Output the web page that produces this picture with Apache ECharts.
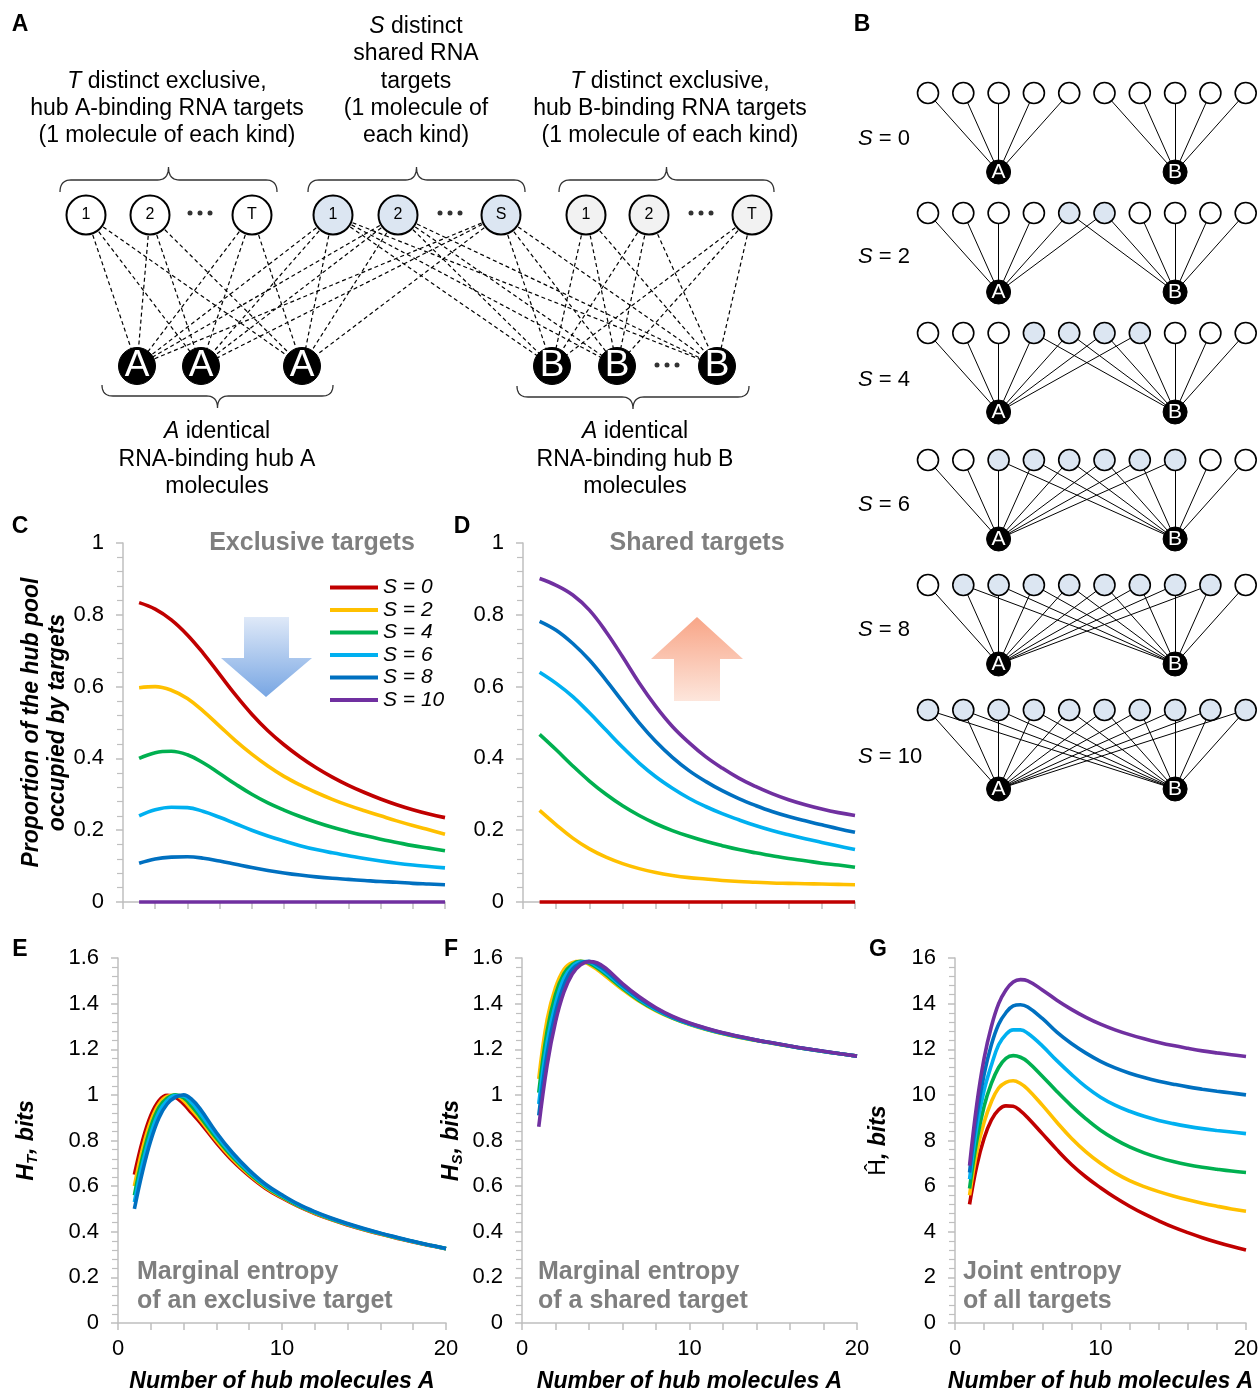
<!DOCTYPE html>
<html>
<head>
<meta charset="utf-8">
<script src="https://cdn.jsdelivr.net/npm/echarts@6/dist/echarts.min.js"></script>
<style>
html,body{margin:0;padding:0;background:#ffffff;}
#chart{width:1260px;height:1393px;}
</style>
</head>
<body>
<div id="chart"></div>
<script>
// ===================== DATA =====================
const sLabels = ['S = 0', 'S = 2', 'S = 4', 'S = 6', 'S = 8', 'S = 10'];
const bPanelS = [0, 2, 4, 6, 8, 10];
const targetsPerRow = 10;
const exclusiveNodeLabels = ['1', '2', 'T'];
const sharedNodeLabels = ['1', '2', 'S'];
const hubCounts = [1,2,3,4,5,6,7,8,9,10,11,12,13,14,15,16,17,18,19,20];
const xTickLabels = [0, 10, 20];

// Panel C: proportion of hub pool occupied by exclusive targets
const exclusiveS0 = [0.834,0.816,0.786,0.744,0.692,0.634,0.576,0.523,0.477,0.438,0.404,0.374,0.348,0.325,0.305,0.287,0.271,0.257,0.245,0.235];
const exclusiveS2 = [0.597,0.600,0.590,0.567,0.531,0.490,0.449,0.412,0.379,0.350,0.326,0.305,0.286,0.269,0.254,0.240,0.226,0.213,0.201,0.189];
const exclusiveS4 = [0.400,0.416,0.420,0.410,0.387,0.358,0.328,0.300,0.276,0.256,0.238,0.222,0.208,0.196,0.185,0.175,0.166,0.157,0.150,0.143];
const exclusiveS6 = [0.240,0.257,0.264,0.263,0.252,0.236,0.218,0.200,0.184,0.170,0.157,0.146,0.137,0.129,0.121,0.114,0.108,0.103,0.099,0.095];
const exclusiveS8 = [0.108,0.120,0.125,0.126,0.122,0.114,0.105,0.096,0.088,0.081,0.075,0.070,0.066,0.063,0.060,0.057,0.055,0.052,0.050,0.048];
const exclusiveS10 = [0,0,0,0,0,0,0,0,0,0,0,0,0,0,0,0,0,0,0,0];

// Panel D: proportion of hub pool occupied by shared targets
const sharedS0 = [0,0,0,0,0,0,0,0,0,0,0,0,0,0,0,0,0,0,0,0];
const sharedS2 = [0.255,0.215,0.178,0.148,0.125,0.107,0.093,0.082,0.074,0.068,0.064,0.060,0.057,0.055,0.053,0.052,0.051,0.050,0.049,0.048];
const sharedS4 = [0.467,0.424,0.379,0.337,0.300,0.268,0.241,0.218,0.199,0.183,0.169,0.157,0.146,0.137,0.129,0.121,0.115,0.108,0.103,0.097];
const sharedS6 = [0.640,0.609,0.572,0.527,0.479,0.431,0.387,0.349,0.317,0.289,0.266,0.246,0.229,0.213,0.199,0.187,0.176,0.166,0.156,0.146];
const sharedS8 = [0.782,0.757,0.720,0.674,0.618,0.558,0.499,0.447,0.403,0.366,0.336,0.310,0.288,0.269,0.252,0.238,0.226,0.215,0.204,0.194];
const sharedS10 = [0.901,0.882,0.855,0.813,0.753,0.683,0.610,0.545,0.489,0.444,0.405,0.373,0.345,0.322,0.302,0.285,0.271,0.259,0.249,0.241];

// Panels E, F, G: entropies
const entropyHubCounts = [1,1.5,2,2.5,3,3.5,4,4.5,5,6,7,8,9,10,11,12,13,14,15,16,17,18,19,20];
const exclEntropyS0 = [0.65,0.80,0.91,0.975,0.998,0.99,0.96,0.92,0.88,0.79,0.71,0.645,0.59,0.548,0.511,0.48,0.453,0.43,0.409,0.39,0.372,0.355,0.34,0.325];
const exclEntropyS2 = [0.60,0.765,0.885,0.96,0.993,0.998,0.975,0.935,0.893,0.80,0.718,0.65,0.594,0.551,0.513,0.482,0.455,0.432,0.41,0.391,0.373,0.356,0.341,0.326];
const exclEntropyS4 = [0.56,0.73,0.86,0.945,0.985,1.0,0.987,0.95,0.905,0.81,0.726,0.656,0.598,0.554,0.515,0.484,0.456,0.433,0.411,0.392,0.374,0.357,0.341,0.326];
const exclEntropyS6 = [0.53,0.70,0.83,0.925,0.975,0.997,0.995,0.965,0.92,0.822,0.735,0.662,0.603,0.558,0.518,0.486,0.458,0.434,0.412,0.393,0.375,0.357,0.341,0.326];
const exclEntropyS8 = [0.50,0.665,0.80,0.90,0.96,0.99,1.0,0.98,0.94,0.835,0.745,0.67,0.608,0.562,0.521,0.488,0.46,0.436,0.414,0.394,0.376,0.358,0.342,0.327];

const sharedEntropyS2 = [1.07,1.33,1.47,1.55,1.58,1.585,1.572,1.548,1.52,1.462,1.41,1.368,1.335,1.308,1.286,1.268,1.252,1.238,1.225,1.213,1.201,1.19,1.18,1.17];
const sharedEntropyS4 = [1.01,1.28,1.44,1.53,1.572,1.585,1.578,1.556,1.528,1.468,1.414,1.371,1.337,1.31,1.288,1.269,1.253,1.239,1.226,1.213,1.201,1.19,1.18,1.17];
const sharedEntropyS6 = [0.96,1.23,1.40,1.51,1.562,1.582,1.582,1.563,1.536,1.474,1.419,1.374,1.339,1.311,1.289,1.27,1.254,1.239,1.226,1.213,1.201,1.19,1.18,1.17];
const sharedEntropyS8 = [0.91,1.18,1.36,1.48,1.55,1.578,1.585,1.57,1.545,1.48,1.424,1.378,1.341,1.313,1.291,1.271,1.255,1.24,1.227,1.214,1.202,1.191,1.18,1.17];
const sharedEntropyS10 = [0.86,1.13,1.32,1.45,1.53,1.57,1.584,1.578,1.555,1.488,1.43,1.382,1.344,1.315,1.292,1.272,1.256,1.24,1.227,1.214,1.202,1.191,1.18,1.17];

const jointEntropyS0 = [5.2,6.9,8.1,8.9,9.35,9.52,9.5,9.3,9.0,8.3,7.6,6.95,6.4,5.93,5.5,5.12,4.78,4.48,4.2,3.96,3.74,3.54,3.36,3.2];
const jointEntropyS2 = [5.6,7.5,8.8,9.7,10.3,10.55,10.62,10.5,10.25,9.55,8.8,8.1,7.5,7.0,6.58,6.24,5.98,5.76,5.57,5.4,5.25,5.12,5.0,4.9];
const jointEntropyS4 = [5.9,8.0,9.5,10.5,11.2,11.6,11.72,11.65,11.45,10.82,10.15,9.52,8.95,8.45,8.05,7.72,7.46,7.25,7.08,6.94,6.83,6.74,6.66,6.6];
const jointEntropyS6 = [6.3,8.6,10.2,11.3,12.2,12.65,12.85,12.85,12.7,12.15,11.5,10.9,10.35,9.9,9.55,9.28,9.06,8.88,8.74,8.62,8.52,8.44,8.37,8.3];
const jointEntropyS8 = [6.6,9.1,10.9,12.2,13.1,13.6,13.9,13.95,13.85,13.35,12.75,12.25,11.83,11.47,11.18,10.95,10.76,10.6,10.47,10.35,10.25,10.16,10.08,10.0];
const jointEntropyS10 = [6.9,9.6,11.6,13.0,14.0,14.6,14.95,15.05,15.0,14.6,14.15,13.75,13.4,13.1,12.85,12.64,12.46,12.3,12.16,12.04,11.93,11.84,11.76,11.68];

// ===================== LAYOUT / STYLE =====================
const FONT = '"Liberation Sans", Arial, sans-serif';
const COLORS = ['#c00000', '#ffc000', '#00b050', '#00b0f0', '#0070c0', '#7030a0'];
const AXIS_GRAY = '#bfbfbf';
const NOTE_GRAY = '#7f7f7f';
const SHARED_FILL = '#dce6f2';
const RIGHT_FILL = '#f2f2f2';

// Panel A layout (diagram grid maps 1:1 to page pixels)
const A_TARGET_Y = 215, A_HUB_Y = 366;
const A_LEFT_X = [86, 150, 252], A_SHARED_X = [333, 398, 501], A_RIGHT_X = [586, 649, 752];
const A_HUBA_X = [137, 201, 302], A_HUBB_X = [552, 617, 717];
const A_DOTS = [[200, 213], [450, 213], [701, 213], [667, 365]];
const A_BRACES = [[60, 277, 192, 180, 167], [308, 525, 192, 180, 167], [559, 774, 192, 180, 167],
                  [102, 333, 385, 396, 408], [517, 749, 386, 397, 409]];
// Panel B layout
const B_X0 = 928, B_DX = 35.3;
const B_TOP_Y = [93, 213, 333, 460, 585, 710];
const B_HUB_DY = 79;
const B_LABEL_Y = [139, 257, 380, 505, 630, 757];

// ===================== BUILD =====================
function panelAGraph() {
  const nodes = [], links = [];
  const tNode = (name, lab, x, fill) => ({
    name, value: [x, A_TARGET_Y], symbolSize: 39,
    itemStyle: { color: fill, borderColor: '#000', borderWidth: 2 },
    label: { show: true, formatter: lab, fontSize: 16, color: '#000', fontFamily: FONT }
  });
  const hNode = (name, lab, x) => ({
    name, value: [x, A_HUB_Y], symbolSize: 37,
    itemStyle: { color: '#000', borderColor: '#000', borderWidth: 1 },
    label: { show: true, formatter: lab, fontSize: 37, color: '#fff', fontFamily: FONT }
  });
  exclusiveNodeLabels.forEach((l, i) => nodes.push(tNode('L' + i, l, A_LEFT_X[i], '#ffffff')));
  sharedNodeLabels.forEach((l, i) => nodes.push(tNode('S' + i, l, A_SHARED_X[i], SHARED_FILL)));
  exclusiveNodeLabels.forEach((l, i) => nodes.push(tNode('R' + i, l, A_RIGHT_X[i], RIGHT_FILL)));
  A_HUBA_X.forEach((x, i) => nodes.push(hNode('HA' + i, 'A', x)));
  A_HUBB_X.forEach((x, i) => nodes.push(hNode('HB' + i, 'B', x)));
  exclusiveNodeLabels.forEach((l, i) => A_HUBA_X.forEach((x, j) => links.push({ source: 'L' + i, target: 'HA' + j })));
  sharedNodeLabels.forEach((l, i) => {
    A_HUBA_X.forEach((x, j) => links.push({ source: 'S' + i, target: 'HA' + j }));
    A_HUBB_X.forEach((x, j) => links.push({ source: 'S' + i, target: 'HB' + j }));
  });
  exclusiveNodeLabels.forEach((l, i) => A_HUBB_X.forEach((x, j) => links.push({ source: 'R' + i, target: 'HB' + j })));
  return {
    type: 'graph', layout: 'none', coordinateSystem: 'cartesian2d', xAxisIndex: 0, yAxisIndex: 0,
    silent: true, roam: false, emphasis: { disabled: true }, z: 3,
    data: nodes, links,
    lineStyle: { color: '#000', width: 1.2, type: [4, 3], opacity: 1, curveness: 0 }
  };
}

function panelBGraph(r) {
  const S = bPanelS[r];
  const top = B_TOP_Y[r], hubY = top + B_HUB_DY;
  const lo = (targetsPerRow - S) / 2, hi = (targetsPerRow + S) / 2;
  const nodes = [], links = [];
  for (let i = 0; i < targetsPerRow; i++) {
    const shared = i >= lo && i < hi;
    nodes.push({ name: 't' + i, value: [B_X0 + i * B_DX, top], symbolSize: 21,
      itemStyle: { color: shared ? SHARED_FILL : '#ffffff', borderColor: '#000', borderWidth: 1.6 },
      label: { show: false } });
  }
  const hubStyle = { color: '#000', borderColor: '#000', borderWidth: 1 };
  nodes.push({ name: 'A', value: [B_X0 + 2 * B_DX, hubY], symbolSize: 24, itemStyle: hubStyle,
    label: { show: true, formatter: 'A', color: '#fff', fontSize: 21, fontFamily: FONT } });
  nodes.push({ name: 'B', value: [B_X0 + 7 * B_DX, hubY], symbolSize: 24, itemStyle: hubStyle,
    label: { show: true, formatter: 'B', color: '#fff', fontSize: 21, fontFamily: FONT } });
  for (let i = 0; i < targetsPerRow; i++) {
    if (i < hi) links.push({ source: 't' + i, target: 'A' });
    if (i >= lo) links.push({ source: 't' + i, target: 'B' });
  }
  return {
    type: 'graph', layout: 'none', coordinateSystem: 'cartesian2d', xAxisIndex: 0, yAxisIndex: 0,
    silent: true, roam: false, emphasis: { disabled: true }, z: 3,
    data: nodes, links,
    lineStyle: { color: '#000', width: 1, type: 'solid', opacity: 1, curveness: 0 }
  };
}

function braceRender(params, api) {
  const x1 = api.value(0), x2 = api.value(1), yE = api.value(2), yM = api.value(3), yT = api.value(4);
  const P = (x, y) => api.coord([x, y]);
  const cx = (x1 + x2) / 2, r = 11;
  const pts = [];
  const quad = (a, b, c) => {
    for (let k = 0; k <= 10; k++) {
      const t = k / 10, u = 1 - t;
      pts.push([u * u * a[0] + 2 * u * t * b[0] + t * t * c[0], u * u * a[1] + 2 * u * t * b[1] + t * t * c[1]]);
    }
  };
  quad(P(x1, yE), P(x1, yM), P(x1 + r, yM));
  quad(P(cx - r, yM), P(cx, yM), P(cx, yT));
  quad(P(cx, yT), P(cx, yM), P(cx + r, yM));
  quad(P(x2 - r, yM), P(x2, yM), P(x2, yE));
  return { type: 'polyline', shape: { points: pts }, style: { stroke: '#333', lineWidth: 1.3, fill: null } };
}

function lineSeries(gridIdx, sIdx, xs, ys) {
  return {
    type: 'line', name: sLabels[sIdx], xAxisIndex: gridIdx, yAxisIndex: gridIdx,
    data: xs.map((x, i) => [x, ys[i]]), showSymbol: false, symbol: 'none', smooth: 0.4,
    color: COLORS[sIdx], lineStyle: { width: 3.6, color: COLORS[sIdx] }, itemStyle: { color: COLORS[sIdx] },
    silent: true, z: 5, clip: false, emphasis: { disabled: true }
  };
}

const nameStyle = { fontSize: 23, fontWeight: 'bold', fontStyle: 'italic', color: '#000', fontFamily: FONT };
function xAx(gridIndex, showLabels, name) {
  return {
    type: 'value', gridIndex, min: 0, max: 20, interval: 2,
    axisLine: { show: true, onZero: false, lineStyle: { color: AXIS_GRAY, width: 1.5 } },
    axisTick: { show: true, length: 7, lineStyle: { color: AXIS_GRAY, width: 1.5 } },
    splitLine: { show: false },
    axisLabel: { show: showLabels, margin: 15, fontSize: 22, color: '#000', fontFamily: FONT,
      formatter: v => (xTickLabels.indexOf(v) >= 0 ? String(v) : '') },
    name: name || '', nameLocation: 'middle', nameGap: 47, nameTextStyle: nameStyle, nameMoveOverlap: false
  };
}
function yAx(gridIndex, max, interval, name, nameGap, rich) {
  return {
    type: 'value', gridIndex, min: 0, max, interval,
    axisLine: { show: true, lineStyle: { color: AXIS_GRAY, width: 1.5 } },
    axisTick: { show: true, length: 7, lineStyle: { color: AXIS_GRAY, width: 1.5 } },
    minorTick: { show: true, splitNumber: 5, length: 6, lineStyle: { color: AXIS_GRAY, width: 1.2 } },
    splitLine: { show: false }, minorSplitLine: { show: false },
    axisLabel: { margin: 19, fontSize: 22, color: '#000', fontFamily: FONT },
    name: name || '', nameLocation: 'middle', nameRotate: 90, nameGap: nameGap || 0, nameMoveOverlap: false,
    nameTextStyle: Object.assign({ lineHeight: 26 }, nameStyle, rich ? { rich } : {})
  };
}
const bi = { fontSize: 23, fontWeight: 'bold', fontStyle: 'italic', color: '#000', fontFamily: FONT };
const sub = { fontSize: 15, fontWeight: 'bold', fontStyle: 'italic', color: '#000', fontFamily: FONT, verticalAlign: 'bottom', padding: [0, 1, 0, 0] };
const reg = { fontSize: 23, fontWeight: 'normal', fontStyle: 'normal', color: '#000', fontFamily: FONT };

// graphic helpers
function txt(x, y, text, o) {
  return { type: 'text', x, y, silent: true, z: 100,
    style: Object.assign({ text, fontSize: 23, fontFamily: FONT, fill: '#000', textAlign: 'center', textVerticalAlign: 'middle' }, o || {}) };
}
const it23 = { fontStyle: 'italic', fontSize: 23, fontFamily: FONT, fill: '#000' };
const it22 = { fontStyle: 'italic', fontSize: 22, fontFamily: FONT, fill: '#000' };

const graphics = [];
// panel letters
[['A', 20, 25], ['B', 862, 25], ['C', 20, 527], ['D', 462, 527], ['E', 20, 950], ['F', 451, 950], ['G', 878, 950]]
  .forEach(p => graphics.push(txt(p[1], p[2], p[0], { fontWeight: 'bold', fontSize: 23 })));
// Panel A texts
graphics.push(txt(167, 82, '{i|T} distinct exclusive,', { rich: { i: it23 } }));
graphics.push(txt(167, 109, 'hub A-binding RNA targets'));
graphics.push(txt(167, 136, '(1 molecule of each kind)'));
graphics.push(txt(416, 27, '{i|S} distinct', { rich: { i: it23 } }));
graphics.push(txt(416, 54, 'shared RNA'));
graphics.push(txt(416, 82, 'targets'));
graphics.push(txt(416, 109, '(1 molecule of'));
graphics.push(txt(416, 136, 'each kind)'));
graphics.push(txt(670, 82, '{i|T} distinct exclusive,', { rich: { i: it23 } }));
graphics.push(txt(670, 109, 'hub B-binding RNA targets'));
graphics.push(txt(670, 136, '(1 molecule of each kind)'));
graphics.push(txt(217, 432, '{i|A} identical', { rich: { i: it23 } }));
graphics.push(txt(217, 460, 'RNA-binding hub A'));
graphics.push(txt(217, 487, 'molecules'));
graphics.push(txt(635, 432, '{i|A} identical', { rich: { i: it23 } }));
graphics.push(txt(635, 460, 'RNA-binding hub B'));
graphics.push(txt(635, 487, 'molecules'));
// Panel B row labels
bPanelS.forEach((s, r) => graphics.push(txt(858, B_LABEL_Y[r], '{i|S} = ' + s, { fontSize: 22, textAlign: 'left', rich: { i: it22 } })));
// C / D titles
graphics.push(txt(312, 543, 'Exclusive targets', { fontSize: 25, fontWeight: 'bold', fill: NOTE_GRAY }));
graphics.push(txt(697, 543, 'Shared targets', { fontSize: 25, fontWeight: 'bold', fill: NOTE_GRAY }));
// E F G notes
[[137, 'Marginal entropy', 'of an exclusive target'], [538, 'Marginal entropy', 'of a shared target'], [963, 'Joint entropy', 'of all targets']]
  .forEach(n => {
    graphics.push(txt(n[0], 1272, n[1], { fontSize: 25, fontWeight: 'bold', fill: NOTE_GRAY, textAlign: 'left' }));
    graphics.push(txt(n[0], 1301, n[2], { fontSize: 25, fontWeight: 'bold', fill: NOTE_GRAY, textAlign: 'left' }));
  });
// arrows
graphics.push({ type: 'polygon', silent: true, z: 1,
  shape: { points: [[244, 617], [289, 617], [289, 658], [312, 658], [266, 697], [221, 658], [244, 658]] },
  style: { fill: new echarts.graphic.LinearGradient(0, 0, 0, 1, [{ offset: 0, color: '#dfe9f8' }, { offset: 1, color: '#78a6e3' }]) } });
graphics.push({ type: 'polygon', silent: true, z: 1,
  shape: { points: [[697, 617], [743, 659], [720, 659], [720, 701], [674, 701], [674, 659], [651, 659]] },
  style: { fill: new echarts.graphic.LinearGradient(0, 0, 0, 1, [{ offset: 0, color: '#f8a587' }, { offset: 1, color: '#fde6dc' }]) } });

const series = [];
series.push({ type: 'custom', xAxisIndex: 0, yAxisIndex: 0, silent: true, z: 2, data: A_BRACES, renderItem: braceRender });
series.push(panelAGraph());
bPanelS.forEach((s, r) => series.push(panelBGraph(r)));
series.push({ type: 'scatter', xAxisIndex: 0, yAxisIndex: 0, silent: true, z: 4, symbol: 'circle', symbolSize: 5,
  itemStyle: { color: '#000' }, data: A_DOTS.reduce((acc, d) => acc.concat([[d[0] - 10, d[1]], [d[0], d[1]], [d[0] + 10, d[1]]]), []) });

const excl = [exclusiveS0, exclusiveS2, exclusiveS4, exclusiveS6, exclusiveS8, exclusiveS10];
const shrd = [sharedS0, sharedS2, sharedS4, sharedS6, sharedS8, sharedS10];
excl.forEach((arr, k) => series.push(lineSeries(1, k, hubCounts, arr)));
shrd.forEach((arr, k) => series.push(lineSeries(2, k, hubCounts, arr)));
[exclEntropyS0, exclEntropyS2, exclEntropyS4, exclEntropyS6, exclEntropyS8]
  .forEach((arr, k) => series.push(lineSeries(3, k, entropyHubCounts, arr)));
[sharedEntropyS2, sharedEntropyS4, sharedEntropyS6, sharedEntropyS8, sharedEntropyS10]
  .forEach((arr, k) => series.push(lineSeries(4, k + 1, entropyHubCounts, arr)));
[jointEntropyS0, jointEntropyS2, jointEntropyS4, jointEntropyS6, jointEntropyS8, jointEntropyS10]
  .forEach((arr, k) => series.push(lineSeries(5, k, entropyHubCounts, arr)));

const option = {
  animation: false,
  backgroundColor: '#ffffff',
  textStyle: { fontFamily: FONT },
  grid: [
    { left: 0, top: 0, width: 1260, height: 520, outerBoundsMode: 'none' },
    { left: 123, top: 543, width: 322, height: 359, outerBoundsMode: 'none' },
    { left: 523, top: 543, width: 332, height: 359, outerBoundsMode: 'none' },
    { left: 118, top: 958, width: 328, height: 365, outerBoundsMode: 'none' },
    { left: 522, top: 958, width: 335, height: 365, outerBoundsMode: 'none' },
    { left: 955, top: 958, width: 291, height: 365, outerBoundsMode: 'none' }
  ],
  xAxis: [
    { type: 'value', gridIndex: 0, min: 0, max: 1260, show: false },
    xAx(1, false), xAx(2, false),
    xAx(3, true, 'Number of hub molecules A'), xAx(4, true, 'Number of hub molecules A'), xAx(5, true, 'Number of hub molecules A')
  ],
  yAxis: [
    { type: 'value', gridIndex: 0, min: 0, max: 520, inverse: true, show: false },
    yAx(1, 1, 0.2, 'Proportion of the hub pool\noccupied by targets', 52),
    yAx(2, 1, 0.2),
    yAx(3, 1.6, 0.2, '{b|H}{s|T}{b|, bits}', 78, { b: bi, s: sub }),
    yAx(4, 1.6, 0.2, '{b|H}{s|S}{b|, bits}', 57, { b: bi, s: sub }),
    yAx(5, 16, 2, '{r|Ĥ}{b|, bits}', 63, { b: bi, r: reg })
  ],
  legend: {
    show: true, data: sLabels, orient: 'vertical', left: 330, top: 577, padding: 0,
    itemWidth: 48, itemHeight: 4, itemGap: 1.5, icon: 'rect', selectedMode: false,
    textStyle: { fontSize: 21, fontStyle: 'italic', color: '#000', fontFamily: FONT, lineHeight: 21 }
  },
  graphic: graphics,
  series
};

const chart = echarts.init(document.getElementById('chart'), null, { renderer: 'canvas' });
chart.setOption(option);
</script>
</body>
</html>
